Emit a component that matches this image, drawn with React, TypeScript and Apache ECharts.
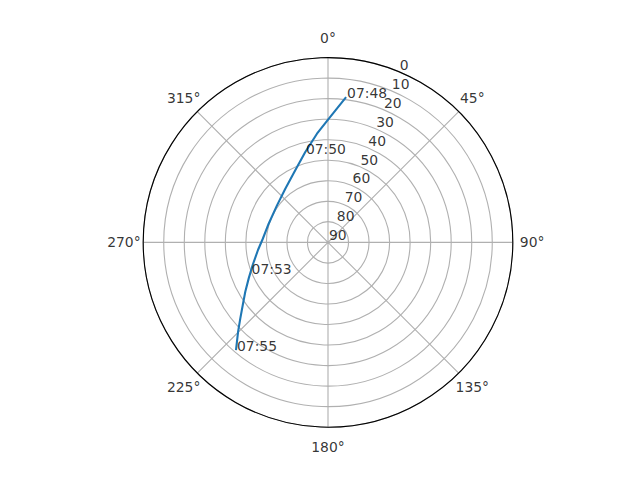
import React, { useEffect, useRef } from 'react';
import * as echarts from 'echarts';

// satellite track: azimuth (deg, clockwise from north) and elevation (deg)
const trackAz = [7.1, 0.3, 354.2, 345.9, 335.6, 321.5, 306.0, 287.5, 273.2, 263.8, 253.3, 245.6, 239.2, 233.7, 229.1, 225.2, 220.5];
const trackEl = [18.7, 29.8, 36.8, 44.6, 51.4, 56.6, 59.3, 59.7, 58.2, 55.7, 51.7, 47.6, 43.1, 38.5, 33.5, 28.3, 21.0];

// time annotations along the track
const passTimes = ['07:48', '07:50', '07:53', '07:55'];
const passAz = [7.1, 345.6, 248.6, 220.5];
const passEl = [18.7, 44.8, 49.5, 21.0];

// axis tick labels
const azimuthTicks = [0, 45, 90, 135, 180, 225, 270, 315];
const elevationTicks = [0, 10, 20, 30, 40, 50, 60, 70, 80, 90];
const elevationLabelAz = 22.5;

const FONT = 'DejaVu Sans';
const FS = 13.9;
const GRID = '#b0b0b0';

const App: React.FC = () => {
  const chartRef = useRef<HTMLDivElement>(null);

  useEffect(() => {
    if (!chartRef.current) return;
    const chart = echarts.init(chartRef.current, null, { renderer: 'svg' });

    const option: any = {
      animation: false,
      backgroundColor: '#ffffff',
      polar: [
        { center: [328, 242.4], radius: 184.8 },
        { center: [328, 242.4], radius: 204.1 }
      ],
      angleAxis: [
        {
          polarIndex: 0,
          type: 'value',
          min: 0,
          max: 360,
          interval: 45,
          startAngle: 90,
          clockwise: true,
          axisLine: { show: true, lineStyle: { color: '#000', width: 1.1 } },
          axisTick: { show: false },
          axisLabel: { show: false },
          splitLine: { show: true, lineStyle: { color: GRID, width: 1.1 } }
        },
        {
          polarIndex: 1,
          type: 'value',
          min: 0,
          max: 360,
          startAngle: 90,
          clockwise: true,
          show: false
        }
      ],
      radiusAxis: [
        {
          polarIndex: 0,
          type: 'value',
          min: 0,
          max: 90,
          interval: 10,
          inverse: true,
          axisLine: { show: false },
          axisTick: { show: false },
          axisLabel: { show: false },
          splitLine: { show: true, lineStyle: { color: GRID, width: 1.1 } }
        },
        {
          polarIndex: 1,
          type: 'value',
          min: 0,
          max: 1,
          show: false
        }
      ],
      series: [
        {
          type: 'line',
          coordinateSystem: 'polar',
          polarIndex: 0,
          showSymbol: false,
          lineStyle: { color: '#1f77b4', width: 2.1 },
          data: trackEl.map((el, i) => [el, trackAz[i]]),
          z: 3
        },
        {
          type: 'scatter',
          coordinateSystem: 'polar',
          polarIndex: 0,
          symbolSize: 1,
          itemStyle: { color: 'rgba(0,0,0,0)' },
          data: passEl.map((el, i) => [el, passAz[i]]),
          label: {
            show: true,
            position: 'inside',
            align: 'left',
            verticalAlign: 'bottom',
            offset: [1, 3],
            color: '#000',
            fontFamily: FONT,
            fontSize: FS,
            formatter: (p: any) => passTimes[p.dataIndex]
          },
          z: 4
        },
        {
          type: 'scatter',
          coordinateSystem: 'polar',
          polarIndex: 0,
          symbolSize: 1,
          itemStyle: { color: 'rgba(0,0,0,0)' },
          data: elevationTicks.map((el) => [el, elevationLabelAz]),
          label: {
            show: true,
            position: 'inside',
            align: 'left',
            verticalAlign: 'bottom',
            offset: [1, 0],
            color: '#000',
            fontFamily: FONT,
            fontSize: FS,
            formatter: (p: any) => String(elevationTicks[p.dataIndex])
          },
          z: 4
        },
        {
          type: 'scatter',
          coordinateSystem: 'polar',
          polarIndex: 1,
          symbolSize: 1,
          itemStyle: { color: 'rgba(0,0,0,0)' },
          data: azimuthTicks.map((az) => [1, az]),
          label: {
            show: true,
            position: 'inside',
            align: 'center',
            verticalAlign: 'middle',
            color: '#000',
            fontFamily: FONT,
            fontSize: FS,
            formatter: (p: any) => azimuthTicks[p.dataIndex] + '°'
          },
          z: 4
        }
      ]
    };

    chart.setOption(option);
    return () => {
      chart.dispose();
    };
  }, []);

  return (
    <div
      ref={chartRef}
      style={{ position: 'absolute', left: 0, top: 0, width: 640, height: 480 }}
    />
  );
};

export default App;
